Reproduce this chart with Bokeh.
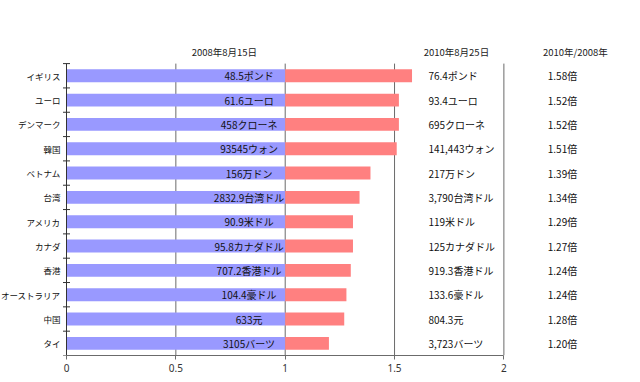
from bokeh.plotting import figure
from bokeh.models import Range1d, FixedTicker, ColumnDataSource
from bokeh.core.properties import value
from bokeh.embed import file_html
from bokeh.resources import INLINE

countries = ["イギリス", "ユーロ", "デンマーク", "韓国", "ベトナム", "台湾",
             "アメリカ", "カナダ", "香港", "オーストラリア", "中国", "タイ"]
base_2008 = [1.0] * 12
ratio = [1.58, 1.52, 1.52, 1.51, 1.39, 1.34, 1.31, 1.31, 1.30, 1.28, 1.27, 1.20]
label_2008 = ["48.5ポンド", "61.6ユーロ", "458クローネ", "93545ウォン", "156万ドン",
              "2832.9台湾ドル", "90.9米ドル", "95.8カナダドル", "707.2香港ドル",
              "104.4豪ドル", "633元", "3105バーツ"]
label_2010 = ["76.4ポンド", "93.4ユーロ", "695クローネ", "141,443ウォン", "217万ドン",
              "3,790台湾ドル", "119米ドル", "125カナダドル", "919.3香港ドル",
              "133.6豪ドル", "804.3元", "3,723バーツ"]
ratio_text = ["1.58倍", "1.52倍", "1.52倍", "1.51倍", "1.39倍", "1.34倍",
              "1.29倍", "1.27倍", "1.24倍", "1.24倍", "1.28倍", "1.20倍"]
headers = ["2008年8月15日", "2010年8月25日", "2010年/2008年"]
x_ticks = [0, 0.5, 1, 1.5, 2]

n = len(countries)
ypos = [n - i - 0.5 for i in range(n)]
bounds_y = list(range(n + 1))

FONT = "Noto Sans CJK JP"

p = figure(frame_width=630, frame_height=315, output_backend="svg", toolbar_location=None,
           x_range=Range1d(-0.3018, 2.579), y_range=Range1d(0, 12.95),
           y_axis_location=None,
           min_border_left=0, min_border_right=0, min_border_top=40, min_border_bottom=10)
p.outline_line_color = None
p.xgrid.visible = False
p.ygrid.visible = False

src = ColumnDataSource(dict(y=ypos, base=base_2008, ratio=ratio, l08=label_2008,
                            l10=label_2010, rt=ratio_text, name=countries))

# gridlines
p.segment(x0=x_ticks[1:], x1=x_ticks[1:], y0=[0] * 4, y1=[n] * 4,
          line_color="#6b6b6b", line_width=1)

p.hbar(y="y", left=0, right="base", height=0.53, source=src,
       fill_color="#9999FF", line_color=None)
p.hbar(y="y", left="base", right="ratio", height=0.53, source=src,
       fill_color="#FF8080", line_color=None)

# left (category) axis: line, boundary ticks and labels
p.segment(x0=[0], x1=[0], y0=[0], y1=[n], line_color="#333333", line_width=1)
p.scatter(x=[0] * len(bounds_y), y=bounds_y, marker="dash", size=7,
          line_color="#333333", line_width=1)
p.text(x=0, y="y", text="name", source=src, x_offset=-6, text_align="right",
       text_baseline="middle", text_font=value(FONT), text_font_size="8.5px",
       text_color="#111111")

p.text(x=0.835, y="y", text="l08", source=src, text_align="center", text_baseline="middle",
       text_font=value(FONT), text_font_size="10px", text_color="#111111")
p.text(x=1.655, y="y", text="l10", source=src, text_align="left", text_baseline="middle",
       text_font=value(FONT), text_font_size="10px", text_color="#111111")
p.text(x=2.268, y="y", text="rt", source=src, text_align="center", text_baseline="middle",
       text_font=value(FONT), text_font_size="10px", text_color="#111111")

p.text(x=[0.722, 1.783, 2.327], y=[12.49] * 3, text=headers, text_align="center",
       text_baseline="middle", text_font=value(FONT), text_font_size="9.5px",
       text_color="#222222")

# bottom axis
xa = p.xaxis[0]
xa.ticker = FixedTicker(ticks=x_ticks)
xa.bounds = (0, 2)
xa.axis_line_color = "#6b6b6b"
xa.major_tick_line_color = "#6b6b6b"
xa.major_tick_in = 0
xa.major_tick_out = 4
xa.minor_tick_line_color = None
xa.major_label_text_font = "Noto Sans"
xa.major_label_text_font_size = "10px"
xa.major_label_text_color = "#333333"
xa.major_label_standoff = 4

open("out.html", "w").write(file_html(p, INLINE))
